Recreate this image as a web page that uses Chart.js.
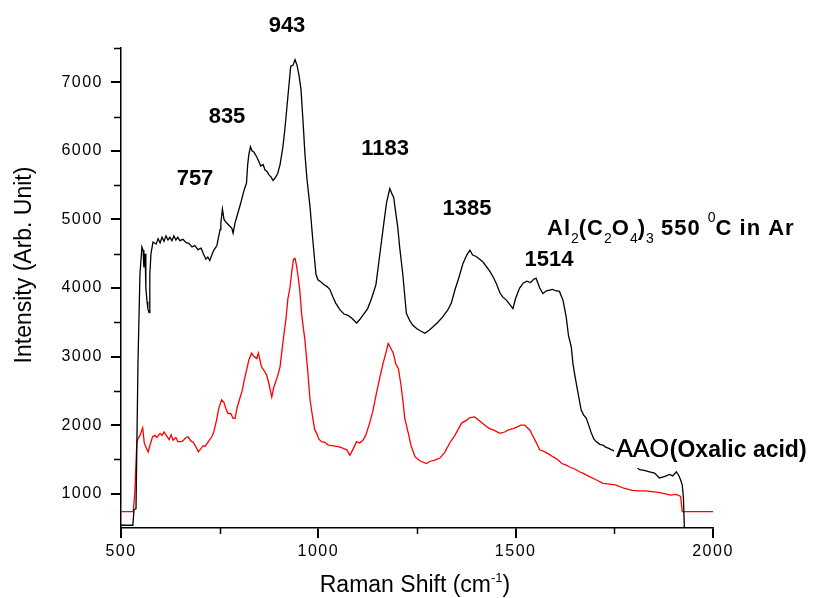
<!DOCTYPE html>
<html>
<head>
<meta charset="utf-8">
<script src="https://cdn.jsdelivr.net/npm/chart.js@4.4.1/dist/chart.umd.min.js"></script>
<style>
  html, body { margin: 0; padding: 0; background: #fff; }
  #wrap { width: 818px; height: 598px; position: relative; }
</style>
</head>
<body>
<div id="wrap"><canvas id="c" width="818" height="598"></canvas></div>
<script>
// ---------------- DATA ----------------
const xTicks = [500, 1000, 1500, 2000];
const xMinorTicks = [750, 1250, 1750];
const yTicks = [1000, 2000, 3000, 4000, 5000, 6000, 7000];
const yMinorTicks = [1500, 2500, 3500, 4500, 5500, 6500, 7500];
const peakLabels = ['943', '835', '757', '1183', '1385', '1514'];
const seriesNames = ['Al2(C2O4)3 550 0C in Ar', 'AAO (Oxalic acid)'];

// Al2(C2O4)3 550 °C in Ar (black)
const shiftBlack = [
  500, 530, 533, 538, 543, 548, 553, 556, 558, 561,
  563, 566, 568, 571, 573, 576, 581, 589, 594, 599,
  604, 609, 614, 619, 624, 629, 634, 639, 644, 649,
  657, 665, 672, 680, 687, 695, 703, 710, 715, 720,
  725, 730, 735, 743, 751, 753, 757, 761, 766, 771,
  776, 781, 784, 789, 796, 804, 812, 818, 821, 824,
  828, 832, 837, 844, 849, 854, 860, 865, 870, 875,
  880, 885, 890, 897, 903, 910, 915, 923, 930, 936,
  941, 946, 951, 956, 961, 966, 971, 979, 986, 994,
  999, 1006, 1014, 1022, 1029, 1037, 1044, 1055, 1065, 1075,
  1085, 1097, 1105, 1115, 1125, 1135, 1146, 1156, 1166, 1173,
  1181, 1186, 1191, 1196, 1201, 1206, 1214, 1223, 1232, 1239,
  1249, 1257, 1270, 1280, 1290, 1303, 1315, 1328, 1337, 1346,
  1356, 1366, 1376, 1384, 1391, 1400, 1409, 1417, 1426, 1434,
  1444, 1452, 1460, 1467, 1477, 1485, 1493, 1500, 1510, 1519,
  1528, 1538, 1546, 1552, 1561, 1569, 1578, 1586, 1594, 1601,
  1611, 1620, 1628, 1634, 1641, 1645, 1649, 1657, 1666, 1672,
  1679, 1685, 1692, 1698, 1704, 1713, 1721, 1728, 1736, 1743,
  1751, 1763, 1776, 1789, 1801, 1814, 1826, 1839, 1852, 1864,
  1877, 1890, 1898, 1907, 1913, 1918, 1922, 1925, 1928
];
const intensityBlack = [
  540, 540, 770, 780, 2900, 4200, 4600, 4550, 4300, 4500,
  4000, 3800, 3700, 3640, 4200, 4500, 4670, 4640, 4720, 4660,
  4740, 4680, 4760, 4700, 4740, 4690, 4760, 4700, 4740, 4690,
  4710, 4660, 4650, 4600, 4620, 4560, 4580, 4480, 4420, 4450,
  4400, 4480, 4550, 4620, 4850, 4950, 5150, 5000, 4960, 4930,
  4900, 4870, 4800, 4950, 5090, 5250, 5430, 5530, 5800, 5950,
  6060, 6000, 5980, 5910, 5850, 5780, 5800, 5720, 5700, 5650,
  5620, 5570, 5600, 5670, 5800, 6050, 6300, 6800, 7230, 7250,
  7330, 7250, 7100, 6900, 6450, 5960, 5600, 5180, 4700, 4200,
  4120, 4090, 4050, 4020, 3980, 3870, 3780, 3680, 3620, 3600,
  3560, 3490, 3540, 3620, 3700, 3850, 4050, 4500, 4950, 5250,
  5450, 5380, 5320, 5100, 4900, 4600, 4200, 3630, 3520, 3460,
  3410, 3380, 3340, 3380, 3430, 3500, 3580, 3680, 3780, 3970,
  4150, 4350, 4480, 4550, 4480, 4460, 4420, 4380, 4310, 4250,
  4150, 4050, 3930, 3870, 3820, 3760, 3700, 3850, 4000, 4070,
  4100, 4080, 4130, 4140, 4000, 3920, 3960, 3970, 3980, 3960,
  3950, 3820, 3580, 3300, 3140, 2900, 2760, 2500, 2220, 2150,
  2100, 2000, 1880, 1800, 1760, 1720, 1710, 1680, 1660, 1640,
  1620, 1580, 1540, 1480, 1420, 1350, 1340, 1320, 1300, 1230,
  1250, 1280, 1260, 1320, 1270, 1200, 1130, 950, 400
];

// AAO (Oxalic acid) (red)
const shiftRed = [
  500, 531, 535, 540, 543, 548, 555, 559, 563, 569,
  573, 580, 586, 591, 599, 604, 609, 616, 622, 627,
  632, 639, 644, 654, 660, 665, 670, 677, 683, 690,
  696, 703, 708, 713, 720, 730, 735, 742, 748, 755,
  761, 766, 771, 778, 784, 789, 794, 800, 807, 812,
  818, 824, 831, 837, 844, 848, 852, 856, 862, 869,
  875, 882, 887, 896, 903, 911, 918, 923, 928, 933,
  937, 941, 944, 948, 953, 958, 966, 973, 979, 986,
  991, 996, 1001, 1008, 1017, 1025, 1034, 1046, 1055, 1063,
  1072, 1080, 1088, 1097, 1105, 1113, 1120, 1130, 1138, 1147,
  1156, 1164, 1171, 1177, 1181, 1190, 1196, 1203, 1209, 1215,
  1219, 1228, 1235, 1245, 1257, 1274, 1282, 1295, 1308, 1320,
  1333, 1346, 1363, 1375, 1384, 1396, 1409, 1426, 1434, 1447,
  1460, 1472, 1482, 1493, 1503, 1513, 1523, 1528, 1536, 1543,
  1551, 1561, 1574, 1586, 1594, 1606, 1617, 1627, 1637, 1649,
  1662, 1670, 1687, 1705, 1721, 1738, 1753, 1774, 1795, 1812,
  1829, 1845, 1862, 1877, 1892, 1907, 1918, 1922, 1935, 2000
];
const intensityRed = [
  740, 740, 1010, 1740, 1800, 1850, 1960, 1740, 1680, 1610,
  1700, 1830, 1850, 1820, 1880, 1850, 1900, 1840, 1790, 1860,
  1780, 1820, 1760, 1760, 1790, 1820, 1830, 1770, 1750, 1680,
  1610, 1660, 1700, 1690, 1750, 1830, 1900, 2070, 2250, 2370,
  2330, 2240, 2170, 2170, 2100, 2100, 2250, 2370, 2500, 2650,
  2800, 2950, 3050, 3000, 2970, 3050, 2950, 2850, 2800, 2730,
  2600, 2410, 2550, 2700, 2850, 3240, 3550, 3850, 4000, 4250,
  4420, 4430, 4350, 4200, 3970, 3600, 3240, 2800, 2370, 2100,
  1930, 1880, 1800, 1760, 1750, 1710, 1700, 1690, 1680, 1660,
  1640, 1560, 1650, 1760, 1740, 1780, 1850, 2030, 2200, 2460,
  2700, 2900, 3050, 3190, 3150, 3050, 2900, 2820, 2600, 2320,
  2100, 1880, 1700, 1540, 1480, 1440, 1470, 1490, 1520, 1600,
  1740, 1850, 2030, 2070, 2110, 2120, 2060, 1980, 1950, 1920,
  1880, 1900, 1930, 1950, 1970, 2000, 2000, 1970, 1930, 1850,
  1760, 1640, 1610, 1570, 1540, 1500, 1440, 1420, 1390, 1360,
  1320, 1300, 1250, 1200, 1150, 1140, 1130, 1080, 1050, 1040,
  1040, 1030, 1020, 1000, 980, 990, 960, 740, 740, 740
];

// ---------------- CHART ----------------
const FONT = '"Liberation Sans", Arial, Helvetica, sans-serif';
const toPoints = (xs, ys) => xs.map((x, i) => ({ x: x, y: ys[i] }));

const decor = {
  id: 'decor',
  beforeDraw(chart) {
    chart.ctx.letterSpacing = '1.5px';
  },
  afterDatasetsDraw(chart) {
    const ctx = chart.ctx;
    const xs = chart.scales.x, ys = chart.scales.y;
    ctx.save();
    ctx.letterSpacing = '0px';
    // minor ticks
    ctx.strokeStyle = '#000';
    ctx.lineWidth = 1.5;
    ctx.beginPath();
    xMinorTicks.forEach(v => {
      const px = Math.round(xs.getPixelForValue(v)) + 0.5;
      ctx.moveTo(px, xs.top); ctx.lineTo(px, xs.top + 6);
    });
    yMinorTicks.forEach(v => {
      const py = Math.round(ys.getPixelForValue(v)) + 0.5;
      ctx.moveTo(ys.right, py); ctx.lineTo(ys.right - 7, py);
    });
    ctx.stroke();

    ctx.fillStyle = '#000';
    ctx.textBaseline = 'alphabetic';
    // peak labels
    const peakPos = [[287, 32], [227, 123], [195, 185], [385, 155], [467, 215], [549, 266]];
    ctx.font = 'bold 22px ' + FONT;
    ctx.textAlign = 'center';
    peakLabels.forEach((t, i) => ctx.fillText(t, peakPos[i][0], peakPos[i][1]));

    // Al2(C2O4)3 550 0C in Ar
    ctx.textAlign = 'left';
    const big = 'bold 22px ' + FONT, small = '14px ' + FONT;
    const parts = [
      ['Al', big, 0], ['2', small, 8], ['(C', big, 0], ['2', small, 8], ['O', big, 0],
      ['4', small, 8], [')', big, 0], ['3', small, 8], [' 550 ', big, 0], ['0', small, -13],
      ['C in Ar', big, 0]
    ];
    let x = 547;
    const base = 235;
    parts.forEach(p => {
      ctx.font = p[1];
      ctx.letterSpacing = p[1] === big ? '1px' : '0px';
      ctx.fillText(p[0], x, base + p[2]);
      x += ctx.measureText(p[0]).width;
    });
    ctx.letterSpacing = '0px';

    // AAO (Oxalic acid) with white backing
    ctx.fillStyle = '#fff';
    ctx.fillRect(614, 436, 202, 32);
    ctx.fillStyle = '#000';
    ctx.font = '25px ' + FONT;
    ctx.fillText('AAO', 616, 457);
    ctx.fillText('AAO', 616.4, 457);
    const w = ctx.measureText('AAO').width;
    ctx.font = 'bold 23px ' + FONT;
    ctx.fillText('(Oxalic acid)', 616 + w + 1, 457);

    // axis titles
    ctx.textAlign = 'left';
    const t1 = 'Raman Shift (cm';
    ctx.font = '23px ' + FONT;
    const w1 = ctx.measureText(t1).width;
    ctx.font = '13px ' + FONT;
    const w2 = ctx.measureText('-1').width;
    ctx.font = '23px ' + FONT;
    const w3 = ctx.measureText(')').width;
    let sx = 415 - (w1 + w2 + w3) / 2;
    ctx.fillText(t1, sx, 592);
    sx += w1;
    ctx.font = '13px ' + FONT;
    ctx.fillText('-1', sx, 582);
    sx += w2;
    ctx.font = '23px ' + FONT;
    ctx.fillText(')', sx, 592);

    ctx.translate(31, 265);
    ctx.rotate(-Math.PI / 2);
    ctx.textAlign = 'center';
    ctx.font = '23px ' + FONT;
    ctx.fillText('Intensity (Arb. Unit)', 0, 0);
    ctx.restore();
  }
};

new Chart(document.getElementById('c'), {
  type: 'line',
  data: {
    datasets: [
      {
        label: seriesNames[0],
        data: toPoints(shiftBlack, intensityBlack),
        borderColor: '#000000',
        borderWidth: 1.3,
        pointRadius: 0,
        tension: 0,
        fill: false
      },
      {
        label: seriesNames[1],
        data: toPoints(shiftRed, intensityRed),
        borderColor: '#ff0000',
        borderWidth: 1.3,
        pointRadius: 0,
        tension: 0,
        fill: false
      }
    ]
  },
  options: {
    responsive: false,
    animation: false,
    devicePixelRatio: 1,
    layout: { padding: { left: 0, right: 105, top: 48, bottom: 0 } },
    plugins: { legend: { display: false }, tooltip: { enabled: false }, title: { display: false } },
    scales: {
      x: {
        type: 'linear',
        min: 500, max: 2000,
        afterBuildTicks: s => { s.ticks = xTicks.map(v => ({ value: v })); },
        afterFit: s => { s.height = 70; },
        grid: { drawOnChartArea: false, drawTicks: true, tickLength: 10, color: '#000', lineWidth: 2 },
        border: { display: true, color: '#000', width: 1.5 },
        ticks: { color: '#000', font: { family: FONT, size: 16 }, padding: 4, maxRotation: 0, autoSkip: false,
                 callback: v => String(v) }
      },
      y: {
        type: 'linear',
        min: 500, max: 7500,
        afterBuildTicks: s => { s.ticks = yTicks.map(v => ({ value: v })); },
        afterFit: s => { s.width = 121; },
        grid: { drawOnChartArea: false, drawTicks: true, tickLength: 10, color: '#000', lineWidth: 2 },
        border: { display: true, color: '#000', width: 1.5 },
        ticks: { color: '#000', font: { family: FONT, size: 16 }, padding: 8, autoSkip: false,
                 callback: v => String(v) }
      }
    }
  },
  plugins: [decor]
});
</script>
</body>
</html>
